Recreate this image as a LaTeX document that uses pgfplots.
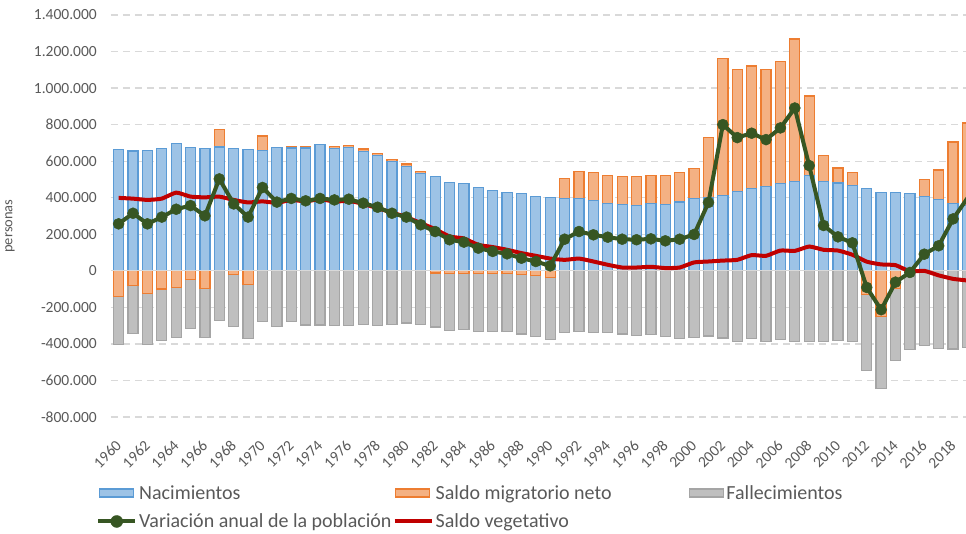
\documentclass[border=0pt]{standalone}
\usepackage{fontspec}
\setmainfont{Carlito}
\usepackage{pgfplots}
\usepackage{pgfplotstable}
\pgfplotsset{compat=1.18}
\definecolor{nacfill}{HTML}{9DC3E6}
\definecolor{nacline}{HTML}{5B9BD5}
\definecolor{migfill}{HTML}{F4B183}
\definecolor{migline}{HTML}{ED7D31}
\definecolor{falfill}{HTML}{BFBFBF}
\definecolor{falline}{HTML}{A5A5A5}
\definecolor{vargreen}{HTML}{375623}
\definecolor{vegred}{HTML}{C00000}
\definecolor{textgray}{HTML}{595959}
\definecolor{gridgray}{HTML}{D9D9D9}
% year, births (B), net migration (M), deaths (D), annual variation (Var), natural balance (Veg)
\pgfplotstableread{
year B M D Var Veg
1960 663000 -140000 265000 257000 399000
1961 656000 -80000 261000 315000 395000
1962 660000 -126000 279000 257000 388000
1963 669000 -100000 281000 294000 395000
1964 696000 -91000 272000 337000 428000
1965 674000 -49000 268000 357000 406000
1966 669000 -97000 269000 301000 402000
1967 678000 97000 273000 503000 406000
1968 669000 -20000 283000 366000 388000
1969 663000 -75000 297000 294000 374000
1970 660000 78000 279000 456000 380000
1971 674000 0 303000 376000 372000
1972 672000 8000 279000 396000 388000
1973 672000 8000 297000 383000 380000
1974 693000 0 297000 396000 392000
1975 669000 13000 299000 388000 379000
1976 674000 11000 299000 392000 383000
1977 655000 12000 293000 370000 366000
1978 633000 11000 299000 348000 343000
1979 600000 11000 293000 315000 319000
1980 569000 16000 286000 294000 294000
1981 534000 11000 293000 252000 261000
1982 516000 -12000 296000 215000 228000
1983 485000 -14000 312000 170000 188000
1984 478000 -14000 307000 157000 177000
1985 458000 -14000 320000 124000 142000
1986 439000 -16000 318000 106000 130000
1987 427000 -16000 318000 93000 115000
1988 421000 -22000 324000 69000 97000
1989 406000 -27000 332000 51000 82000
1990 403000 -36000 340000 27000 67000
1991 394000 113000 339000 173000 60000
1992 394000 151000 334000 215000 67000
1993 383000 153000 339000 197000 51000
1994 370000 151000 339000 184000 33000
1995 363000 155000 346000 173000 18000
1996 359000 159000 354000 170000 18000
1997 368000 154000 348000 175000 22000
1998 363000 158000 360000 164000 15000
1999 377000 163000 370000 173000 18000
2000 394000 164000 363000 199000 46000
2001 403000 326000 357000 374000 51000
2002 412000 749000 368000 800000 56000
2003 436000 667000 385000 729000 60000
2004 450000 671000 372000 753000 86000
2005 461000 642000 385000 718000 82000
2006 478000 667000 374000 782000 111000
2007 490000 779000 385000 891000 109000
2008 520000 437000 385000 576000 133000
2009 490000 143000 385000 248000 115000
2010 481000 82000 381000 186000 111000
2011 469000 71000 385000 153000 88000
2012 452000 -131000 414000 -91000 50000
2013 427000 -250000 392000 -213000 35000
2014 427000 -95000 396000 -62000 31000
2015 421000 -8000 424000 -9000 -3000
2016 406000 93000 408000 91000 0
2017 392000 160000 423000 137000 -25000
2018 370000 335000 428000 284000 -44000
2019 356000 453000 419000 398000 -53000
}\datatable
\begin{document}
\begin{tikzpicture}
\begin{axis}[
  name=main,
  scale only axis, width=855pt, height=402pt,
  xmin=1959.47, xmax=2018.9,
  ymin=-800000, ymax=1400000,
  ytick={-800000,-600000,-400000,-200000,0,200000,400000,600000,800000,1000000,1200000,1400000},
  xtick={1960,1962,1964,1966,1968,1970,1972,1974,1976,1978,1980,1982,1984,1986,1988,1990,1992,1994,1996,1998,2000,2002,2004,2006,2008,2010,2012,2014,2016,2018},
  scaled y ticks=false,
  axis line style={draw=none},
  major tick length=0pt,
  ymajorgrids,
  grid style={color=gridgray, line width=1.3pt, dash pattern=on 7pt off 5pt},
  tick label style={font=\fontsize{15.5}{18}\selectfont, text=textgray},
  yticklabel style={/pgf/number format/fixed, /pgf/number format/1000 sep={.}, /pgf/number format/assume math mode=true, anchor=east, inner sep=0pt, xshift=-14pt},
  xticklabel style={/pgf/number format/fixed, /pgf/number format/1000 sep={}, /pgf/number format/assume math mode=true, inner sep=0pt, xshift=0pt, yshift=-26pt, rotate=45, anchor=east},
  ylabel={personas},
  y label style={at={(axis description cs:-0.1181,0.475)}, anchor=center, font=\fontsize{14.5}{17}\selectfont, text=textgray},
  ybar, bar width=0.7, bar shift=0pt,
  legend columns=3,
  legend cell align=left,
  legend style={at={(axis description cs:-0.0175,-0.1642)}, anchor=north west,
    draw=none, fill=none, inner sep=0pt,
    font=\fontsize{20}{24}\selectfont, text=textgray,
    /tikz/every odd column/.style={column sep=0pt},
    row sep=9pt},
]
% positive part: net migration stacked above births
\addplot[fill=migfill, draw=migline, line width=1.2pt, forget plot,
  restrict expr to domain={\thisrow{M}}{1:100000000}]
  table[x=year, y expr=\thisrow{B}+\thisrow{M}] {\datatable};
\addplot[fill=nacfill, draw=nacline, line width=1.2pt, forget plot]
  table[x=year, y=B] {\datatable};
% negative part: deaths below negative migration
\addplot[fill=falfill, draw=falline, line width=1.2pt, forget plot,
  restrict expr to domain={\thisrow{M}}{-100000000:0}]
  table[x=year, y expr=\thisrow{M}-\thisrow{D}] {\datatable};
\addplot[fill=falfill, draw=falline, line width=1.2pt, forget plot,
  restrict expr to domain={\thisrow{M}}{1:100000000}]
  table[x=year, y expr=-\thisrow{D}] {\datatable};
\addplot[fill=migfill, draw=migline, line width=1.2pt, forget plot,
  restrict expr to domain={\thisrow{M}}{-100000000:-1}]
  table[x=year, y=M] {\datatable};
% zero line
\addplot[sharp plot, color=gridgray, line width=1.3pt, forget plot] coordinates {(1959.47,0) (2018.9,0)};
% lines
\addplot[sharp plot, color=vegred, line width=4pt, smooth, tension=0.3, forget plot]
  table[x=year, y=Veg] {\datatable};
\addplot[sharp plot, color=vargreen, line width=4pt, mark=*, mark size=5.5pt,
  mark options={solid, line width=0.5pt, fill=vargreen}, forget plot]
  table[x=year, y=Var] {\datatable};
% legend
\addlegendimage{legend image code/.code={\draw[fill=nacfill, draw=nacline, line width=1.2pt] (1pt,-4pt) rectangle (35pt,4pt);}}
\addlegendentry{\makebox[251.5pt][l]{\rule[-5pt]{0pt}{19pt}Nacimientos}}
\addlegendimage{legend image code/.code={\draw[fill=migfill, draw=migline, line width=1.2pt] (1pt,-4pt) rectangle (35pt,4pt);}}
\addlegendentry{\makebox[251.5pt][l]{\rule[-5pt]{0pt}{19pt}Saldo migratorio neto}}
\addlegendimage{legend image code/.code={\draw[fill=falfill, draw=falline, line width=1.2pt] (1pt,-4pt) rectangle (35pt,4pt);}}
\addlegendentry{\makebox[251.5pt][l]{\rule[-5pt]{0pt}{19pt}Fallecimientos}}
\addlegendimage{legend image code/.code={\draw[vargreen, line width=4pt] (0pt,0pt) -- (37pt,0pt); \fill[vargreen] (18.5pt,0pt) circle (6pt);}}
\addlegendentry{\makebox[251.5pt][l]{\rule[-5pt]{0pt}{19pt}Variación anual de la población}}
\addlegendimage{legend image code/.code={\draw[vegred, line width=4pt] (0pt,0pt) -- (37pt,0pt);}}
\addlegendentry{\makebox[251.5pt][l]{\rule[-5pt]{0pt}{19pt}Saldo vegetativo}}
\end{axis}
\pgfresetboundingbox
\path[use as bounding box] ([shift={(-111pt,-117pt)}]main.south west) rectangle ([shift={(0pt,15pt)}]main.north east);
\end{tikzpicture}
\end{document}
